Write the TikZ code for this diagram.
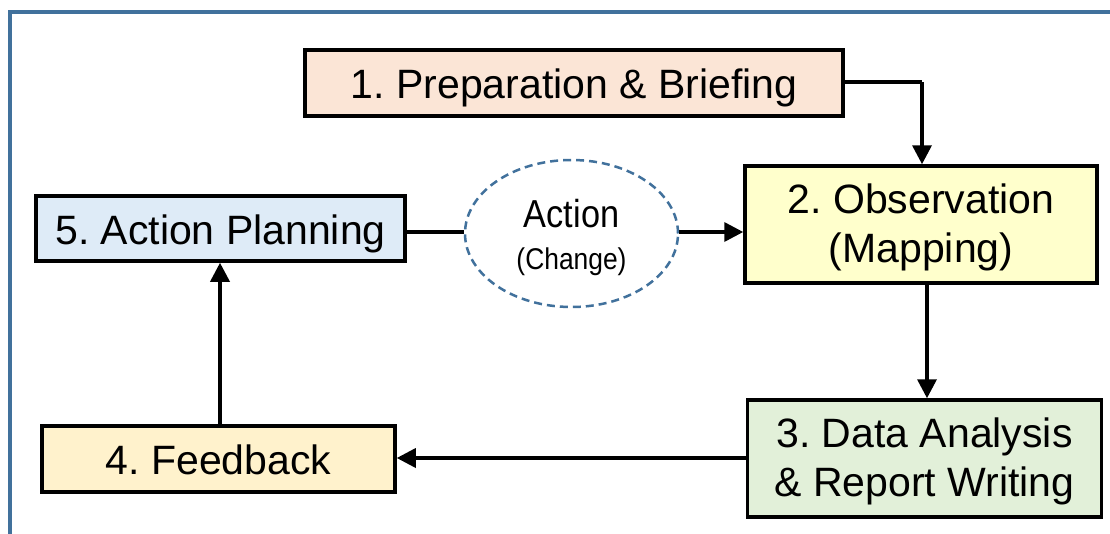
\documentclass[tikz,border=0pt]{standalone}
\usepackage{fontspec}
\setmainfont{Liberation Sans}
\newfontfamily\narrowfont[FakeStretch=0.88]{Liberation Sans}
\usetikzlibrary{arrows.meta,shapes.geometric}
\frenchspacing

\definecolor{framecol}{HTML}{41719C}
\definecolor{prepfill}{HTML}{FBE5D6}
\definecolor{obsfill}{HTML}{FFFFCC}
\definecolor{datafill}{HTML}{E2F0D9}
\definecolor{feedfill}{HTML}{FFF2CC}
\definecolor{planfill}{HTML}{DEEBF7}

\tikzset{
  stepbox/.style={draw=black, line width=3.5pt, align=center, inner sep=0pt,
    font=\fontsize{41}{49}\selectfont},
  oneline/.style={text height=31pt, text depth=0pt},
  flow/.style={line width=3.5pt, -{Triangle[length=19pt,width=19pt]}},
  plain/.style={line width=3.5pt},
}
% raises the first line of a two-line label so the block sits a little lower
\newcommand\firstline{\rule{0pt}{35pt}}

\begin{document}
\begin{tikzpicture}[x=1pt, y=-1pt]
  \useasboundingbox (0,0) rectangle (1110,533);
  \fill[white] (0,0) rectangle (1110,533);

  % outer frame, running past the right and bottom edges
  \begin{scope}
    \clip (0,0) rectangle (1110,533);
    \draw[framecol, line width=4pt] (10,12) rectangle (1140,560);
  \end{scope}

  % process steps
  \node[stepbox, oneline, fill=prepfill, minimum width=538pt, minimum height=66pt]
    (prep) at (574,83) {1. Preparation \& Briefing};
  \node[stepbox, fill=obsfill, minimum width=352pt, minimum height=117pt]
    (obs) at (921,224.5) {\firstline 2. Observation\\(Mapping)};
  \node[stepbox, fill=datafill, minimum width=354pt, minimum height=117pt]
    (data) at (924.5,458.5) {\firstline 3. Data Analysis\\\& Report Writing};
  \node[stepbox, oneline, fill=feedfill, minimum width=353pt, minimum height=66pt]
    (feed) at (218.5,459) {4. Feedback};
  \node[stepbox, oneline, fill=planfill, minimum width=369pt, minimum height=65pt]
    (plan) at (220.5,228.5) {5. Action Planning};

  % action bubble
  \node[ellipse, draw=framecol, dashed, dash pattern=on 8pt off 5pt,
        line width=2.5pt, minimum width=213pt, minimum height=147pt,
        inner sep=0pt, align=center,
        font=\narrowfont\fontsize{30}{42}\selectfont] (act) at (571.5,233.5)
    {\rule{0pt}{37pt}{\fontsize{39}{42}\selectfont Action}\\(Change)};

  % connectors
  \coordinate (bend) at (922,82);
  \draw[plain] (prep.east |- bend) -- (bend);
  \draw[flow] (bend) -- (bend |- obs.north);
  \draw[flow] (927,0 |- obs.south) -- (927,0 |- data.north);
  \draw[flow] (data.west |- 0,458) -- (feed.east |- 0,458);
  \draw[flow] (220,0 |- feed.north) -- (220,0 |- plan.south);
  \draw[plain] (plan.east |- 0,232) -- (act.west |- 0,232);
  \draw[flow] (act.east |- 0,232) -- (obs.west |- 0,232);
\end{tikzpicture}
\end{document}
